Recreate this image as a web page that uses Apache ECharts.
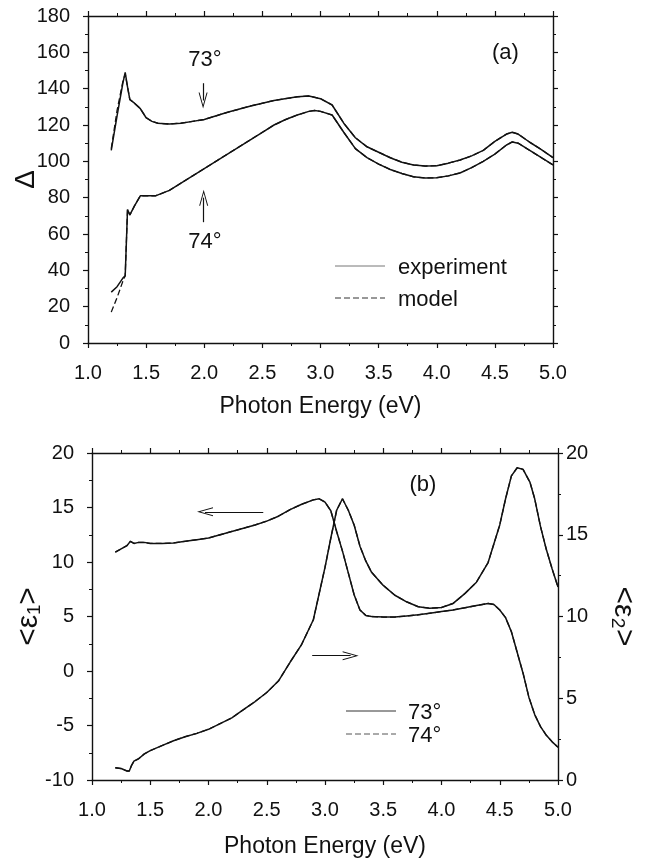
<!DOCTYPE html>
<html>
<head>
<meta charset="utf-8">
<script src="https://cdn.jsdelivr.net/npm/echarts@6/dist/echarts.min.js"></script>
<style>
  html, body { margin: 0; padding: 0; background: #fff; }
  #chart { width: 653px; height: 864px; }
</style>
</head>
<body>
<div id="chart"></div>
<script>
// ---- Panel (a): ellipsometric angle Δ vs photon energy ----
const energyA73 = [1.20,1.25,1.30,1.32,1.34,1.36,1.40,1.45,1.50,1.55,1.60,1.70,1.80,1.90,2.00,2.20,2.40,2.60,2.80,2.90,3.00,3.10,3.20,3.30,3.40,3.50,3.60,3.70,3.80,3.90,4.00,4.10,4.20,4.30,4.40,4.50,4.60,4.65,4.70,4.80,4.90,5.00];
const deltaExp73 = [106,125,143,149,141,134,132,129,124,122,121,120.5,121,122,123,127,130.5,133.5,135.5,136,134.5,131,121,113,108,105,102,99.5,98,97.4,97.6,99,100.7,103,106,111,115,116,115,110.5,106.5,102];

const energyA74 = [1.20,1.25,1.30,1.32,1.34,1.36,1.40,1.45,1.50,1.58,1.70,1.80,1.90,2.00,2.20,2.40,2.50,2.60,2.70,2.80,2.90,2.95,3.00,3.10,3.20,3.30,3.40,3.50,3.60,3.70,3.80,3.90,4.00,4.10,4.20,4.30,4.40,4.50,4.60,4.65,4.70,4.80,4.90,5.00];
const deltaExp74 = [28,31,35.7,37,73.5,70.5,75.5,81,81,81,84,88,92,96,104,112,116,120,123,125.5,127.5,128,127.5,125.5,116,107,102,98.5,95.5,93.3,91.5,90.8,91,92,93.6,96.5,100,104,109,110.7,110,106,102,98];

// model curves separate from the data only below the band-edge feature
const energyModelLow = [1.20,1.25,1.30,1.32];
const deltaModel73Low = [107,128,144,148];
const deltaModel74Low = [17,25,34,37];

const deltaTicks = { min: 0, max: 180, step: 20 };
const energyTicks = { min: 1.0, max: 5.0, step: 0.5 };

// ---- Panel (b): pseudo-dielectric function ----
const energyB1 = [1.20,1.25,1.30,1.33,1.36,1.40,1.45,1.50,1.60,1.70,1.80,1.90,2.00,2.10,2.20,2.30,2.40,2.50,2.60,2.70,2.80,2.90,2.95,3.00,3.05,3.10,3.15,3.20,3.25,3.30,3.35,3.40,3.50,3.60,3.70,3.80,3.90,4.00,4.10,4.20,4.30,4.40,4.45,4.50,4.55,4.60,4.65,4.70,4.75,4.80,4.85,4.90,4.95,5.00];
const eps1 = [10.9,11.2,11.5,11.9,11.7,11.8,11.8,11.7,11.7,11.75,11.9,12.05,12.2,12.5,12.8,13.1,13.4,13.75,14.2,14.8,15.3,15.7,15.8,15.5,14.7,12.8,11.0,9.0,7.0,5.6,5.1,5.0,4.95,4.95,5.05,5.15,5.3,5.45,5.6,5.8,6.0,6.2,6.1,5.6,4.9,3.6,1.7,-0.2,-2.4,-4.0,-5.1,-5.9,-6.5,-7.0];

const energyB2 = [1.20,1.25,1.30,1.32,1.34,1.36,1.40,1.45,1.50,1.60,1.70,1.80,1.90,2.00,2.10,2.20,2.30,2.40,2.50,2.60,2.70,2.80,2.90,3.00,3.05,3.10,3.15,3.20,3.25,3.30,3.35,3.40,3.50,3.60,3.70,3.80,3.90,4.00,4.10,4.20,4.30,4.40,4.50,4.55,4.60,4.65,4.70,4.76,4.80,4.85,4.90,4.95,5.00];
const eps2 = [0.75,0.7,0.55,0.55,0.9,1.15,1.3,1.6,1.8,2.1,2.4,2.65,2.85,3.1,3.45,3.8,4.3,4.8,5.35,6.05,7.2,8.3,9.8,13.0,14.8,16.5,17.2,16.5,15.6,14.3,13.4,12.7,11.9,11.3,10.9,10.6,10.5,10.55,10.8,11.4,12.1,13.3,15.6,17.2,18.6,19.1,19.0,18.2,17.2,15.5,14.1,12.9,11.8];

const eps1Ticks = { min: -10, max: 20, step: 5 };
const eps2Ticks = { min: 0, max: 20, step: 5 };

const legendA = ['experiment', 'model'];
const legendB = ['73°', '74°'];

// ---- helpers ----
const zip = (xs, ys) => xs.map((x, i) => [x, ys[i]]);
// model = its own low-energy points, then the measured points once they coincide
function modelCurve(lowE, lowV, expE, expV) {
  const last = lowE[lowE.length - 1];
  const tail = zip(expE, expV).filter(p => p[0] > last);
  return zip(lowE, lowV).concat(tail);
}

const FONT = 'Liberation Sans, Arial, Helvetica, sans-serif';
const INK = '#111';
const chevron = 'path://M5,0 L10,16 L8.9,16 L5,3.4 L1.1,16 L0,16 Z';

function energyAxis(gridIndex, showLabels, position, nameGap) {
  return {
    type: 'value', gridIndex, position,
    min: energyTicks.min, max: energyTicks.max, interval: energyTicks.step,
    name: showLabels ? 'Photon Energy (eV)' : '',
    nameLocation: 'middle', nameGap, nameMoveOverlap: false,
    nameTextStyle: { fontFamily: FONT, fontSize: 23, color: INK },
    axisLine: { show: true, onZero: false, lineStyle: { color: INK, width: 1.4 } },
    axisTick: { show: true, inside: false, length: 5, lineStyle: { color: INK, width: 1.2 } },
    minorTick: { show: true, splitNumber: 2, length: 3, lineStyle: { color: INK, width: 1 } },
    axisLabel: { show: showLabels, margin: 20, fontFamily: FONT, fontSize: 20, color: INK,
                 formatter: v => v.toFixed(1) },
    splitLine: { show: false }, minorSplitLine: { show: false }
  };
}

function valueAxis(gridIndex, position, ticks, showLabels, extra) {
  return Object.assign({
    type: 'value', gridIndex, position,
    min: ticks.min, max: ticks.max, interval: ticks.step,
    nameMoveOverlap: false,
    axisLine: { show: true, onZero: false, lineStyle: { color: INK, width: 1.4 } },
    axisTick: { show: true, inside: false, length: 5, lineStyle: { color: INK, width: 1.2 } },
    minorTick: { show: true, splitNumber: 2, length: 3, lineStyle: { color: INK, width: 1 } },
    axisLabel: { show: showLabels, margin: 18, fontFamily: FONT, fontSize: 20, color: INK },
    splitLine: { show: false }, minorSplitLine: { show: false }
  }, extra || {});
}

const lineBase = {
  type: 'line', symbol: 'none', showSymbol: false, smooth: false,
  silent: true, animation: false
};
const solid = { color: INK, width: 1.5, type: 'solid' };
const dashed = { color: INK, width: 1.3, type: [6, 3] };

const annotationLabel = { show: true, fontFamily: FONT, fontSize: 22, color: INK, position: 'inside' };

// key drawn as short line samples with text, one block per panel
function legendBlock(names, styles, x, y, rowGap, textGap) {
  const out = [];
  names.forEach((name, i) => {
    const yy = y + i * rowGap;
    out.push({
      type: 'line', silent: true,
      shape: { x1: x, y1: yy, x2: x + 50, y2: yy },
      style: Object.assign({ stroke: '#555', lineWidth: 1 }, styles[i])
    });
    out.push({
      type: 'text', silent: true, x: x + 50 + textGap, y: yy + 2,
      style: { text: name, font: '22px ' + FONT, fill: INK, verticalAlign: 'middle', align: 'left' }
    });
  });
  return out;
}

const option = {
  backgroundColor: '#fff',
  animation: false,
  grid: [
    { left: 88, right: 100, top: 16, height: 327, containLabel: false, outerBoundsMode: 'none' },
    { left: 92, right: 95, top: 453, height: 327, containLabel: false, outerBoundsMode: 'none' }
  ],
  xAxis: [
    energyAxis(0, true, 'bottom', 52),
    energyAxis(0, false, 'top', 0),
    energyAxis(1, true, 'bottom', 55),
    energyAxis(1, false, 'top', 0)
  ],
  yAxis: [
    valueAxis(0, 'left', deltaTicks, true, {
      name: 'Δ', nameLocation: 'middle', nameRotate: 90, nameGap: 48,
      nameTextStyle: { fontFamily: FONT, fontSize: 28, color: INK }
    }),
    valueAxis(0, 'right', deltaTicks, false),
    valueAxis(1, 'left', eps1Ticks, true, {
      name: '<ε₁>', nameLocation: 'middle', nameRotate: 90, nameGap: 48,
      nameTextStyle: { fontFamily: FONT, fontSize: 30, color: INK }
    }),
    valueAxis(1, 'right', eps2Ticks, true, {
      name: '<ε₂>', nameLocation: 'middle', nameRotate: -90, nameGap: 50,
      nameTextStyle: { fontFamily: FONT, fontSize: 30, color: INK },
      axisLabel: { show: true, margin: 8, fontFamily: FONT, fontSize: 20, color: INK }
    })
  ],
  graphic: [].concat(
    legendBlock(legendA, [{ stroke: '#777' }, { stroke: '#333', lineDash: [6, 3] }], 335, 266, 32, 13),
    legendBlock(legendB, [{ stroke: '#333' }, { stroke: '#555', lineDash: [6, 3] }], 346, 711, 23, 12)
  ),
  series: [
    // panel (a)
    Object.assign({}, lineBase, {
      name: legendA[0], xAxisIndex: 0, yAxisIndex: 0,
      data: zip(energyA73, deltaExp73), lineStyle: solid, z: 3,
      markLine: {
        silent: true, symbol: ['none', chevron], symbolSize: [9, 16],
        lineStyle: { color: INK, width: 1.2, type: 'solid' }, label: { show: false },
        data: [
          [{ coord: [1.99, 143] }, { coord: [1.99, 133.5] }],
          [{ coord: [1.995, 66.5] }, { coord: [1.995, 80] }]
        ]
      },
      markPoint: {
        silent: true, symbol: 'circle', symbolSize: 0, label: annotationLabel,
        data: [
          { name: '73°', coord: [2.005, 156], label: { formatter: '73°' } },
          { name: '74°', coord: [2.005, 55.5], label: { formatter: '74°' } },
          { name: '(a)', coord: [4.59, 159.5], label: { formatter: '(a)' } }
        ]
      }
    }),
    Object.assign({}, lineBase, {
      name: legendA[0], xAxisIndex: 0, yAxisIndex: 0,
      data: zip(energyA74, deltaExp74), lineStyle: solid, z: 3
    }),
    Object.assign({}, lineBase, {
      name: legendA[1], xAxisIndex: 0, yAxisIndex: 0,
      data: modelCurve(energyModelLow, deltaModel73Low, energyA73, deltaExp73), lineStyle: dashed, z: 2
    }),
    Object.assign({}, lineBase, {
      name: legendA[1], xAxisIndex: 0, yAxisIndex: 0,
      data: modelCurve(energyModelLow, deltaModel74Low, energyA74, deltaExp74), lineStyle: dashed, z: 2
    }),
    // panel (b): the two incidence angles give the same pseudo-dielectric function
    Object.assign({}, lineBase, {
      name: legendB[0], xAxisIndex: 2, yAxisIndex: 2,
      data: zip(energyB1, eps1), lineStyle: solid, z: 3,
      markLine: {
        silent: true, symbol: ['none', chevron], symbolSize: [9, 16],
        lineStyle: { color: INK, width: 1.2, type: 'solid' }, label: { show: false },
        data: [
          [{ coord: [2.47, 14.6] }, { coord: [1.97, 14.6] }]
        ]
      },
      markPoint: {
        silent: true, symbol: 'circle', symbolSize: 0, label: annotationLabel,
        data: [
          { name: '(b)', coord: [3.84, 17.1], label: { formatter: '(b)' } }
        ]
      }
    }),
    Object.assign({}, lineBase, {
      name: legendB[0], xAxisIndex: 2, yAxisIndex: 3,
      data: zip(energyB2, eps2), lineStyle: solid, z: 3,
      markLine: {
        silent: true, symbol: ['none', chevron], symbolSize: [9, 16],
        lineStyle: { color: INK, width: 1.2, type: 'solid' }, label: { show: false },
        data: [
          [{ coord: [2.89, 7.6] }, { coord: [3.22, 7.6] }]
        ]
      }
    }),
    Object.assign({}, lineBase, {
      name: legendB[1], xAxisIndex: 2, yAxisIndex: 2,
      data: zip(energyB1, eps1), lineStyle: dashed, z: 2
    }),
    Object.assign({}, lineBase, {
      name: legendB[1], xAxisIndex: 2, yAxisIndex: 3,
      data: zip(energyB2, eps2), lineStyle: dashed, z: 2
    })
  ]
};

const chart = echarts.init(document.getElementById('chart'), null, { renderer: 'canvas' });
chart.setOption(option);
</script>
</body>
</html>
